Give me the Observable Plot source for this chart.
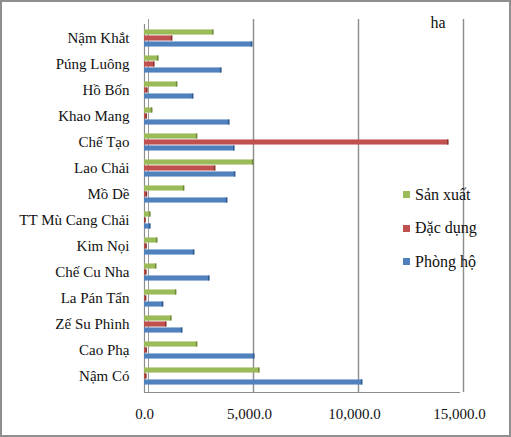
<!DOCTYPE html>
<html>
<head>
<meta charset="utf-8">
<script src="https://cdn.jsdelivr.net/npm/d3@7"></script>
<script src="https://cdn.jsdelivr.net/npm/@observablehq/plot@0.6"></script>
<style>
  html, body { margin: 0; padding: 0; background: #fff; }
  #wrap { position: relative; width: 511px; height: 437px; overflow: hidden; }
  #wrap svg text, #wrap svg { font-family: "Times New Roman", "Liberation Serif", "DejaVu Serif", serif !important; }
  #border { position: absolute; left: 0; top: 0; width: 511px; height: 437px; box-sizing: border-box; border: 2px solid #8f8f8f; pointer-events: none; }
  #legend { position: absolute; left: 403px; top: 178px; font-family: "Times New Roman", "Liberation Serif", "DejaVu Serif", serif; font-size: 16px; color: #111; }
  .item { display: flex; align-items: center; height: 33.5px; }
  .sw { width: 7px; height: 7px; margin-right: 5px; }
</style>
</head>
<body>
<div id="wrap"><div id="border"></div></div>
<script>
const categories = ["Nậm Khắt","Púng Luông","Hồ Bốn","Khao Mang","Chế Tạo","Lao Chải","Mồ Dề","TT Mù Cang Chải","Kim Nọi","Chế Cu Nha","La Pán Tẩn","Zế Su Phình","Cao Phạ","Nậm Có"];
const seriesNames = ["Sản xuất","Đặc dụng","Phòng hộ"];
const sanXuat = [3290,670,1570,380,2520,5190,1900,290,620,570,1520,1290,2520,5480];
const dacDung = [1330,480,150,120,14480,3380,130,60,110,100,90,1050,120,100];
const phongHo = [5140,3670,2330,4050,4290,4330,3950,290,2380,3100,900,1810,5240,10380];
const xTicks = [0,5000,10000,15000];

const seriesValues = [sanXuat, dacDung, phongHo];
const fills = ["#9BBB59","#C0504D","#4F81BD"];
const ends = ["#6E8A3A","#8E3431","#2F5A8E"];
const offsets = [-6, 0, 6];

const rows = categories.flatMap((c, i) => seriesNames.map((s, j) => ({category: c, series: s, value: seriesValues[j][i]})));

const inset = 10.45;
const barMarks = seriesNames.flatMap((s, j) => {
  const d = rows.filter(r => r.series === s);
  return [
    Plot.barX(d, {x: "value", y: "category", fill: fills[j], insetTop: inset, insetBottom: inset, dy: offsets[j]}),
    Plot.tickX(d, {x: "value", y: "category", stroke: ends[j], strokeWidth: 1.6, insetTop: inset, insetBottom: inset, dy: offsets[j], dx: -0.8})
  ];
});

const serif = "Times New Roman, Liberation Serif, DejaVu Serif, serif";
const chart = Plot.plot({
  width: 511,
  height: 437,
  marginLeft: 144,
  marginRight: 52,
  marginTop: 21,
  marginBottom: 45,
  style: {fontFamily: serif, fontSize: "15px", color: "#111", background: "transparent"},
  x: {domain: [0, 15000], label: null},
  y: {type: "band", domain: categories, padding: 0, label: null},
  marks: [
    Plot.ruleX(xTicks.slice(1), {stroke: "#8c8c8c", strokeWidth: 1.4, dx: 4, insetTop: -2}),
    Plot.ruleX([0], {stroke: "#9a9a9a", strokeWidth: 1, dx: 4, insetTop: -2}),
    Plot.ruleX([0], {stroke: "#8c8c8c", strokeWidth: 1.2, insetTop: 3}),
    Plot.frame({anchor: "bottom", stroke: "#8c8c8c", strokeWidth: 1.2}),
    ...barMarks,
    Plot.axisX({ticks: xTicks, tickFormat: d3.format(",.1f"), tickSize: 0, tickPadding: 16, fontSize: 15, label: null}),
    Plot.axisY({tickSize: 0, tickPadding: 15, fontSize: 15, label: null}),
    Plot.text(["ha"], {frameAnchor: "top-right", dx: -14, dy: -5, fontSize: 16, textAnchor: "end", lineAnchor: "top", fill: "#111"})
  ]
});

const wrap = document.getElementById("wrap");
wrap.insertBefore(chart, wrap.firstChild);

const legend = document.createElement("div");
legend.id = "legend";
seriesNames.forEach((s, j) => {
  const it = document.createElement("div");
  it.className = "item";
  const sw = document.createElement("span");
  sw.className = "sw";
  sw.style.background = fills[j];
  const tx = document.createElement("span");
  tx.textContent = s;
  it.appendChild(sw);
  it.appendChild(tx);
  legend.appendChild(it);
});
wrap.appendChild(legend);
</script>
</body>
</html>
